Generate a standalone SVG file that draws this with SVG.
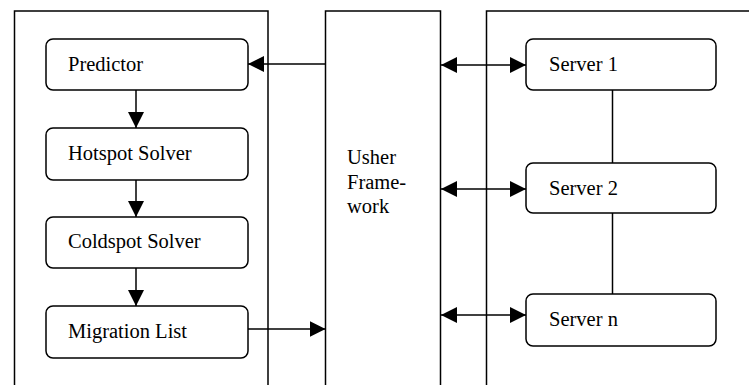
<svg xmlns="http://www.w3.org/2000/svg" width="749" height="385" viewBox="0 0 749 385">
<defs>
<style>
.panel{fill:none;stroke:#000;stroke-width:1.5}
.node{fill:#fff;stroke:#000;stroke-width:1.5}
.edge{fill:none;stroke:#000;stroke-width:1.5}
text{font-family:"Liberation Serif","Times New Roman","DejaVu Serif","Noto Serif",Tinos,serif;font-size:20.5px;fill:#000}
</style>
<marker id="ah" markerUnits="userSpaceOnUse" markerWidth="16" markerHeight="16" viewBox="0 0 15 15" refX="15" refY="7.5" orient="auto-start-reverse">
<path d="M0,0 L15,7.5 L0,15 Z" fill="#000"/>
</marker>
</defs>
<rect width="749" height="385" fill="#fff"/>
<g id="panel-left"><path class="panel" d="M14.5,390 V11 H268 V390"/></g>
<g id="usher"><path class="panel" d="M325.5,390 V11 H440.5 V390"/>
<text x="347" y="164">Usher</text>
<text x="347" y="188.5">Frame-</text>
<text x="347" y="213">work</text></g>
<g id="panel-right"><path class="panel" d="M486.5,390 V11 H760"/></g>
<g id="predictor"><rect class="node" x="46" y="39" width="202" height="51" rx="7"/><text x="68" y="71">Predictor</text></g>
<g id="hotspot"><rect class="node" x="46" y="128" width="202" height="52" rx="7"/><text x="68" y="160">Hotspot Solver</text></g>
<g id="coldspot"><rect class="node" x="46" y="217" width="202" height="51" rx="7"/><text x="68" y="248">Coldspot Solver</text></g>
<g id="migration"><rect class="node" x="46" y="306" width="202" height="52" rx="7"/><text x="68" y="338">Migration List</text></g>
<g id="server1"><rect class="node" x="526" y="39" width="190" height="51" rx="7"/><text x="549" y="71">Server 1</text></g>
<g id="server2"><rect class="node" x="526" y="163" width="190" height="50" rx="7"/><text x="549" y="195">Server 2</text></g>
<g id="servern"><rect class="node" x="526" y="294" width="190" height="52" rx="7"/><text x="549" y="326">Server n</text></g>
<g id="connectors">
<line class="edge" x1="136" y1="90" x2="136" y2="128" marker-end="url(#ah)"/>
<line class="edge" x1="136" y1="180" x2="136" y2="217" marker-end="url(#ah)"/>
<line class="edge" x1="136" y1="268" x2="136" y2="306" marker-end="url(#ah)"/>
<line class="edge" x1="325.5" y1="64" x2="248" y2="64" marker-end="url(#ah)"/>
<line class="edge" x1="248" y1="329" x2="325.5" y2="329" marker-end="url(#ah)"/>
<line class="edge" x1="441" y1="65" x2="526" y2="65" marker-start="url(#ah)" marker-end="url(#ah)"/>
<line class="edge" x1="441" y1="189" x2="526" y2="189" marker-start="url(#ah)" marker-end="url(#ah)"/>
<line class="edge" x1="441" y1="315" x2="526" y2="315" marker-start="url(#ah)" marker-end="url(#ah)"/>
<line class="edge" x1="612.5" y1="90" x2="612.5" y2="163"/>
<line class="edge" x1="612.5" y1="213" x2="612.5" y2="294"/>
</g>
</svg>
